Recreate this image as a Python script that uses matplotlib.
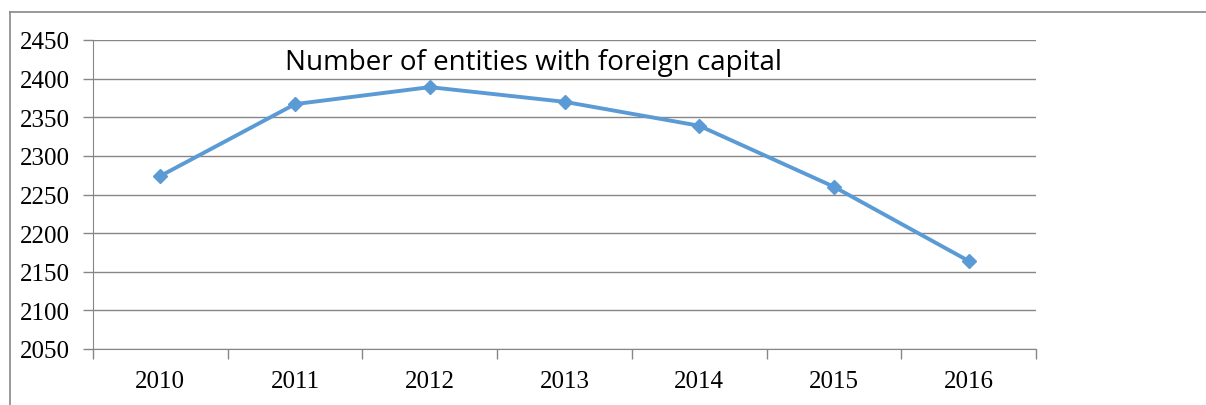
import matplotlib.pyplot as plt
from matplotlib.lines import Line2D

plt.rcParams['font.family'] = ['Liberation Serif', 'DejaVu Serif']

years = ['2010', '2011', '2012', '2013', '2014', '2015', '2016']
entities = [2274, 2367, 2389, 2370, 2339, 2260, 2164]
y_ticks = [2050, 2100, 2150, 2200, 2250, 2300, 2350, 2400, 2450]

fig = plt.figure(figsize=(12.06, 4.06), dpi=100)
ax = fig.add_axes([93 / 1206, 1 - 350 / 406, (1036 - 93) / 1206, (350 - 41) / 406])

x = list(range(len(years)))
ax.plot(x, entities, color='#5B9BD5', linewidth=2.8, marker='D', markersize=7.5)

ax.set_xlim(-0.5, len(years) - 0.5)
ax.set_ylim(2050, 2450)
ax.set_yticks(y_ticks)
ax.set_yticklabels([str(v) for v in y_ticks])
ax.set_xticks([i - 0.5 for i in range(len(years) + 1)])
ax.set_xticklabels([])
ax.set_xticks(x, minor=True)
ax.set_xticklabels(years, minor=True)
ax.tick_params(axis='x', which='minor', length=0, pad=15, labelsize=18)
ax.tick_params(axis='x', which='major', length=7, color='#868686', width=1)
ax.tick_params(axis='y', length=7, color='#868686', width=1, pad=10, labelsize=18)
for lbl in ax.get_yticklabels() + ax.get_xticklabels(minor=True):
    lbl.set_family('Liberation Serif')

ax.yaxis.grid(True, color='#868686', linewidth=1)
ax.set_axisbelow(True)
for side in ['top', 'right']:
    ax.spines[side].set_visible(False)
ax.spines['left'].set_color('#868686')
ax.spines['bottom'].set_color('#868686')

ax.text(2.77, 2422, 'Number of entities with foreign capital', ha='center', va='center',
        family='Open Sans', fontsize=20,
        bbox=dict(facecolor='white', edgecolor='none', pad=2))

# outer frame (top and left edges visible)
fig.add_artist(Line2D([10 / 1206, 1], [1 - 13 / 406] * 2, color='#888888', linewidth=1.2))
fig.add_artist(Line2D([10 / 1206] * 2, [0, 1 - 13 / 406], color='#888888', linewidth=1.2))

fig.savefig('out.png', dpi=100)
